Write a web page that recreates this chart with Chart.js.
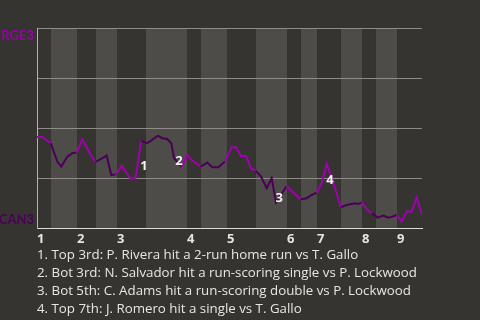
<!DOCTYPE html>
<html>
<head>
<meta charset="utf-8">
<script src="https://cdn.jsdelivr.net/npm/chart.js@4.4.1/dist/chart.umd.min.js"></script>
<style>
  html, body { margin:0; padding:0; background:#363430; }
  #wrap { position:relative; width:480px; height:320px; }
  #notes { position:absolute; left:37px; top:245px; color:#e6e6e4; font:13.3px/18px "Open Sans", sans-serif; white-space:nowrap; }
</style>
</head>
<body>
<div id="wrap">
  <canvas id="wp" width="480" height="320"></canvas>
  <div id="notes"></div>
</div>
<script>
// game progress 0..100, half-inning starts (top halves at even index)
const halfStarts = [0, 3.64, 10.39, 15.32, 20.78, 28.31, 38.96, 42.6, 49.35, 56.88, 64.94, 68.57, 72.73, 78.96, 84.42, 88.05, 93.51];
const gameEnd = 100;
const inningLabels = ['1','2','3','4','5','6','7','8','9'];

// win probability for RGE3 (1 = RGE3, 0 = CAN3)
const wpX = [0, 1.38, 3.56, 5.27, 6.31, 7.87, 9.17, 10.31, 11.77, 13.95, 15.2, 16.96, 18.1, 19.3, 20.44,
  22.0, 24.34, 25.64, 27.09, 28.65, 31.43, 32.55, 33.84, 34.88, 35.58, 37.58, 39.04, 40.18, 42.5, 44.23,
  45.53, 47.09, 48.83, 50.57, 51.69, 52.99, 54.29, 55.58, 56.8, 58.18, 59.66, 60.96, 62.08, 64.86, 66.57,
  68.5, 70.05, 71.35, 72.65, 73.95, 75.25, 76.1, 77.84, 78.9, 80.44, 82.6, 83.45, 84.4, 85.64, 86.94,
  88.49, 89.95, 91.25, 92.29, 93.43, 94.73, 96.03, 97.32, 98.62, 100];
const wpY = [0.455, 0.455, 0.424, 0.332, 0.307, 0.357, 0.374, 0.377, 0.444, 0.365, 0.33, 0.349, 0.362, 0.265, 0.269,
  0.312, 0.245, 0.252, 0.435, 0.424, 0.462, 0.449, 0.445, 0.424, 0.35, 0.305, 0.365, 0.34, 0.307, 0.327,
  0.304, 0.304, 0.332, 0.404, 0.404, 0.36, 0.36, 0.299, 0.287, 0.257, 0.199, 0.249, 0.127, 0.21, 0.177,
  0.144, 0.149, 0.165, 0.177, 0.224, 0.32, 0.274, 0.174, 0.104, 0.115, 0.124, 0.12, 0.127, 0.094, 0.074,
  0.052, 0.062, 0.052, 0.057, 0.065, 0.032, 0.082, 0.082, 0.153, 0.065];

const eventNums = ['1','2','3','4'];
const eventX = [27.8, 36.9, 62.9, 76.1];
const eventY = [0.31, 0.335, 0.15, 0.24];
const eventText = [
  '1. Top 3rd: P. Rivera hit a 2-run home run vs T. Gallo',
  '2. Bot 3rd: N. Salvador hit a run-scoring single vs P. Lockwood',
  '3. Bot 5th: C. Adams hit a run-scoring double vs P. Lockwood',
  '4. Top 7th: J. Romero hit a single vs T. Gallo'
];
const teamTop = 'RGE3', teamBottom = 'CAN3';

const BG = '#363430', BAND = '#4d4c49';
const TOP_COLOR = '#a000b0', BOT_COLOR = '#4b0056';

function halfIndex(x){ let k=0; for(let i=0;i<halfStarts.length;i++){ if(x>=halfStarts[i]) k=i; } return k; }
const inningStarts = halfStarts.filter((v,i)=>i%2===0);

document.getElementById('notes').innerHTML = eventText.map(t=>'<div>'+t+'</div>').join('');

const bands = { id:'bands',
  beforeDraw(chart){
    const {ctx, chartArea:a, scales:{x}} = chart;
    ctx.save();
    ctx.fillStyle = BG; ctx.fillRect(0,0,chart.width,chart.height);
    halfStarts.forEach((s,i)=>{
      const x0 = x.getPixelForValue(s), x1 = x.getPixelForValue(i+1<halfStarts.length ? halfStarts[i+1] : gameEnd);
      ctx.fillStyle = i%2 ? BAND : BG;
      ctx.fillRect(x0, a.top, x1-x0, a.bottom-a.top);
    });
    ctx.restore();
  }
};
const eventLabels = { id:'eventLabels',
  afterDatasetsDraw(chart){
    const {ctx, scales:{x,y}} = chart;
    ctx.save();
    ctx.font = 'bold 13px "Open Sans", sans-serif';
    ctx.textAlign = 'center'; ctx.textBaseline = 'middle';
    ctx.fillStyle = '#f2f2f2';
    eventNums.forEach((n,i)=> ctx.fillText(n, x.getPixelForValue(eventX[i]), y.getPixelForValue(eventY[i])));
    ctx.restore();
  }
};

new Chart(document.getElementById('wp'), {
  type:'line',
  data:{ datasets:[{
    data: wpX.map((v,i)=>({x:v, y:wpY[i]})),
    borderWidth:2, pointRadius:0, tension:0,
    segment:{ borderColor: c => halfIndex(c.p1.parsed.x)%2 ? BOT_COLOR : TOP_COLOR }
  }]},
  options:{
    responsive:false, animation:false,
    layout:{ padding:{ top:28, right:58, left:0, bottom:0 } },
    plugins:{ legend:{display:false}, tooltip:{enabled:false} },
    scales:{
      x:{ type:'linear', min:0, max:gameEnd,
        afterBuildTicks: s => { s.ticks = inningStarts.map(v=>({value:v})); },
        afterFit: s => { s.height = 92; },
        grid:{ display:false, drawTicks:false },
        border:{ color:'#dcdcda', width:1 },
        ticks:{ autoSkip:false, maxRotation:0, align:'start', padding:3, color:'#e4e4e2',
          font:{ family:'"Open Sans"', size:13, weight:'bold' },
          callback:(v,i)=>inningLabels[i] }
      },
      y:{ min:0, max:1,
        afterFit: s => { s.width = 37; },
        grid:{ color:'#8d8c89', drawTicks:false },
        border:{ color:'#b4b4b2', width:1 },
        ticks:{ stepSize:0.25, padding:3,
          font:{ family:'Lato', size:13, weight:'bold' },
          color: c => c.tick && c.tick.value===1 ? '#9a00aa' : '#4d0059',
          callback: v => v===1 ? ['', teamTop] : (v===0 ? [teamBottom, ''] : '') }
      }
    }
  },
  plugins:[bands, eventLabels]
});
</script>
</body>
</html>
